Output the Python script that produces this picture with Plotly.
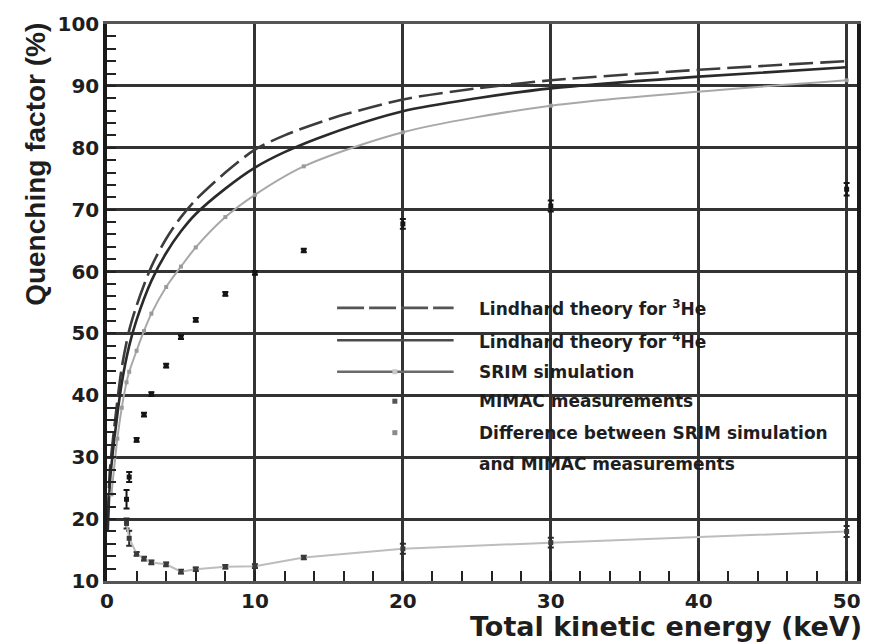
import plotly.graph_objects as go

# Lindhard theory curves (quenching factor in %, vs total kinetic energy in keV)
lind_energy = [0.05, 0.2, 0.5, 1, 1.5, 2, 3, 4, 5, 6, 8, 10, 12, 15, 20, 25, 30, 40, 50]
lind_he3 = [20, 28, 35, 44.5, 50.5, 54.5, 60.8, 65.3, 68.8, 71.6, 76.0, 79.7, 82.0, 84.6, 87.8, 89.6, 90.9, 92.6, 94.0]
lind_he4 = [18, 26, 33, 42.0, 48.0, 52.2, 58.5, 63.0, 66.5, 69.3, 73.4, 76.8, 79.3, 82.2, 85.9, 88.0, 89.6, 91.5, 93.0]

# SRIM simulation
srim_energy = [0.3, 0.7, 1.0, 1.32, 1.5, 2, 2.5, 3, 4, 5, 6, 8, 10, 13.3, 20, 30, 50]
srim_qf = [24, 33, 38, 42.1, 43.8, 47.2, 50.4, 53.2, 57.5, 60.8, 63.9, 68.8, 72.4, 77.0, 82.5, 86.8, 90.9]

# MIMAC measurements
meas_energy = [1.32, 1.5, 2, 2.5, 3, 4, 5, 6, 8, 10, 13.3, 20, 30, 50]
meas_qf = [23.2, 26.8, 32.8, 36.9, 40.2, 44.8, 49.4, 52.2, 56.4, 59.8, 63.4, 67.7, 70.6, 73.3]
meas_err = [1.5, 0.8, 0.3, 0.3, 0.3, 0.3, 0.3, 0.3, 0.3, 0.3, 0.3, 0.8, 0.9, 1.0]

# Difference between SRIM simulation and MIMAC measurements
diff_qf = [19.3, 16.9, 14.4, 13.6, 13.0, 12.7, 11.5, 11.9, 12.3, 12.4, 13.8, 15.2, 16.2, 18.0]
diff_err = [0.8, 1.2, 0.3, 0.3, 0.3, 0.3, 0.3, 0.3, 0.3, 0.3, 0.3, 0.8, 0.8, 0.9]

x_ticks = [0, 10, 20, 30, 40, 50]
y_ticks = [10, 20, 30, 40, 50, 60, 70, 80, 90, 100]

W, H = 873, 643
L, R, T, B = 107, 13, 14, 62
PW, PH = W - L - R, H - T - B

def fx(px):
    return (px - L) / PW

def fy(py):
    return (H - B - py) / PH

TXT = "#1e1e1e"
WIDE = "DejaVu Sans"

fig = go.Figure()

fig.add_trace(go.Scatter(
    x=lind_energy, y=lind_he3, mode="lines", showlegend=False,
    line=dict(color="#3c3c3c", width=2.6, dash="24px,7px", shape="spline", smoothing=0.8),
))
fig.add_trace(go.Scatter(
    x=lind_energy, y=lind_he4, mode="lines", showlegend=False,
    line=dict(color="#2a2a2a", width=2.6, shape="spline", smoothing=0.8),
))
fig.add_trace(go.Scatter(
    x=srim_energy, y=srim_qf, mode="lines+markers", showlegend=False,
    line=dict(color="#a8a8a8", width=2, shape="spline", smoothing=0.8),
    marker=dict(symbol="square", size=4, color="#9a9a9a"),
))
fig.add_trace(go.Scatter(
    x=meas_energy, y=diff_qf, mode="lines+markers", showlegend=False,
    line=dict(color="#bdbdbd", width=2),
    marker=dict(symbol="square", size=5, color="#3a3a3a"),
    error_y=dict(type="data", array=diff_err, color="#2a2a2a", thickness=2, width=3),
))
fig.add_trace(go.Scatter(
    x=meas_energy, y=meas_qf, mode="markers", showlegend=False,
    marker=dict(symbol="square", size=5, color="#151515"),
    error_y=dict(type="data", array=meas_err, color="#151515", thickness=2, width=3),
))

# Legend drawn as shapes and labels inside the frame
shapes = []
annotations = []
leg_x0, leg_x1, leg_mark, leg_text = 338, 455, 396, 478

def leg_line(py, color, width, dash=None):
    d = dict(type="line", xref="paper", yref="paper",
             x0=fx(leg_x0), x1=fx(leg_x1), y0=fy(py), y1=fy(py),
             line=dict(color=color, width=width))
    if dash:
        d["line"]["dash"] = dash
    shapes.append(d)

def leg_marker(py, color):
    shapes.append(dict(type="rect", xref="paper", yref="paper",
                       xsizemode="pixel", ysizemode="pixel",
                       xanchor=fx(leg_mark), yanchor=fy(py),
                       x0=-2.5, x1=2.5, y0=-2.5, y1=2.5,
                       fillcolor=color, line=dict(width=0)))

def leg_label(py, text):
    annotations.append(dict(xref="paper", yref="paper", x=fx(leg_text), y=fy(py),
                            xanchor="left", yanchor="middle", showarrow=False,
                            text=text, font=dict(family=WIDE, size=17, color=TXT, weight="bold")))

leg_line(303, "#555555", 2.6, "27px,5px")
leg_label(303, "Lindhard theory for <sup>3</sup>He")
leg_line(336, "#4a4a4a", 2.6)
leg_label(337, "Lindhard theory for <sup>4</sup>He")
leg_line(368, "#6a6a6a", 2.6)
leg_marker(368, "#c8c8c8")
leg_label(368, "SRIM simulation")
leg_marker(398, "#555555")
leg_label(398, "MIMAC measurements")
leg_marker(430, "#8a8a8a")
leg_label(430, "Difference between SRIM simulation")
leg_label(462, "and MIMAC measurements")

# Axis titles
annotations.append(dict(xref="paper", yref="paper", x=fx(35), y=fy(11),
                        xanchor="center", yanchor="top", showarrow=False, textangle=-90,
                        text="Quenching factor (%)",
                        font=dict(family="Liberation Sans", size=28, color=TXT, weight="bold")))
annotations.append(dict(xref="paper", yref="paper", x=fx(867), y=fy(627),
                        xanchor="right", yanchor="middle", showarrow=False,
                        text="Total kinetic energy (keV)",
                        font=dict(family=WIDE, size=27, color=TXT, weight="bold")))

tick_font = dict(family=WIDE, size=20, color=TXT, weight="bold")

fig.update_layout(
    width=W, height=H,
    margin=dict(l=L, r=R, t=T, b=B),
    paper_bgcolor="white", plot_bgcolor="white",
    showlegend=False,
    shapes=shapes, annotations=annotations,
    xaxis=dict(
        range=[0, 50.7], tickvals=x_ticks, ticktext=[str(v) for v in x_ticks],
        tickfont=tick_font, ticks="inside", ticklen=10, tickwidth=2, tickcolor="#222",
        showgrid=True, gridcolor="#333333", gridwidth=2.5, zeroline=False,
        showline=True, linecolor="#555555", linewidth=3, mirror=True,
        minor=dict(dtick=2, ticks="inside", ticklen=10, tickwidth=2, tickcolor="#222", showgrid=False),
    ),
    yaxis=dict(
        range=[10, 100], tickvals=y_ticks, ticktext=[str(v) for v in y_ticks],
        tickfont=tick_font, ticks="inside", ticklen=8, tickwidth=2, tickcolor="#222",
        showgrid=True, gridcolor="#333333", gridwidth=2.5, zeroline=False,
        showline=True, linecolor="#1a1a1a", linewidth=3.5, mirror=True,
        minor=dict(dtick=2, ticks="inside", ticklen=9, tickwidth=2, tickcolor="#222", showgrid=False),
    ),
)

fig.write_html("out.html")
